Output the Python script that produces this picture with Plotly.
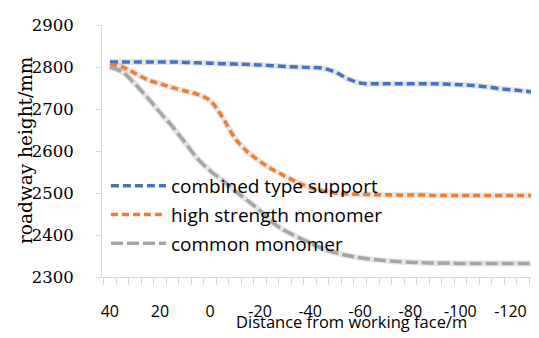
import plotly.graph_objects as go

distance = [40, 35, 30, 25, 20, 15, 10, 5, 0, -5, -10, -15, -20, -25, -30, -35, -40, -45,
            -50, -55, -60, -65, -70, -75, -80, -85, -90, -95, -100, -105, -110, -115, -120, -125, -130]
combined = [2812, 2812, 2812, 2812, 2812, 2812, 2811, 2810, 2809, 2808, 2807, 2806, 2805, 2803,
            2801, 2800, 2799, 2797, 2788, 2772, 2762, 2760, 2760, 2760, 2760, 2760, 2760, 2759,
            2758, 2756, 2753, 2749, 2746, 2743, 2740]
high_strength = [2806, 2800, 2785, 2770, 2760, 2751, 2743, 2735, 2720, 2680, 2630, 2598, 2575,
                 2556, 2540, 2525, 2513, 2505, 2500, 2498, 2497, 2496, 2496, 2495, 2495, 2495,
                 2494, 2494, 2494, 2494, 2494, 2494, 2494, 2494, 2494]
common = [2800, 2788, 2760, 2727, 2692, 2658, 2620, 2582, 2553, 2530, 2505, 2482, 2458, 2430,
          2410, 2395, 2381, 2368, 2358, 2351, 2346, 2342, 2339, 2337, 2335, 2334, 2333, 2333,
          2332, 2332, 2332, 2332, 2332, 2332, 2332]
x_tick_vals = [40, 20, 0, -20, -40, -60, -80, -100, -120]
x_tick_text = ["40", "20", "0", "-20", "-40", "-60", "-80", "-100", "-120"]
series_names = ["combined type support", "high strength monomer", "common monomer"]
series_colors = ["#4472C4", "#ED7D31", "#A5A5A5"]
series_dash = ["8px,4px", "7px,4px", "12px,4px"]

fig = go.Figure()
for vals in [combined, high_strength, common]:
    fig.add_trace(go.Scatter(x=distance, y=vals, mode="lines",
                             line=dict(color="rgba(0,0,0,0.10)", width=6, shape="spline"),
                             showlegend=False, hoverinfo="skip"))
for i, vals in enumerate([combined, high_strength, common]):
    fig.add_trace(go.Scatter(x=distance, y=vals, mode="lines", name=series_names[i], legendgroup=str(i),
                             line=dict(color=series_colors[i], width=3.5, dash=series_dash[i], shape="spline")))

fig.update_layout(
    width=531, height=330,
    margin=dict(l=94, r=0, t=17, b=61),
    paper_bgcolor="white", plot_bgcolor="white",
    showlegend=True,
    legend=dict(x=0.009, y=0.437, xanchor="left", yanchor="top", bgcolor="rgba(0,0,0,0)",
                font=dict(family="Open Sans", size=19, color="black"), tracegroupgap=1,
                traceorder="grouped", itemwidth=55),
    xaxis=dict(range=[43.14, -131.4], tickvals=x_tick_vals, ticktext=x_tick_text, ticks="",
               automargin=False, ticklabeloverflow="allow",
               showgrid=False, zeroline=False, showline=True, linecolor="#d9d9d9", linewidth=1,
               tickfont=dict(family="Open Sans", size=16, color="black"), ticklabelstandoff=20,
               minor=dict(ticks="outside", dtick=5, tick0=2.5, ticklen=7, tickcolor="#d9d9d9", showgrid=False)),
    yaxis=dict(range=[2300, 2900], dtick=100, ticks="outside", ticklen=5, tickcolor="#d9d9d9",
               automargin=False,
               showgrid=False, zeroline=False, showline=True, linecolor="#d9d9d9", linewidth=1,
               tickfont=dict(family="DejaVu Serif", size=16.5, color="black"),
               ticklabelstandoff=19),
)
fig.add_annotation(text="roadway height/mm", xref="paper", yref="paper", x=0, xshift=-77, y=0.5,
                   yshift=1, textangle=-90, showarrow=False,
                   font=dict(family="DejaVu Serif", size=18.5, color="black"),
                   xanchor="center", yanchor="middle")
fig.add_annotation(text="Distance from working face/m", xref="paper", yref="paper", x=0.572, y=0, yshift=-44,
                   showarrow=False, font=dict(family="Open Sans", size=16.5, color="black"),
                   xanchor="center", yanchor="middle")
fig.write_html("out.html")
